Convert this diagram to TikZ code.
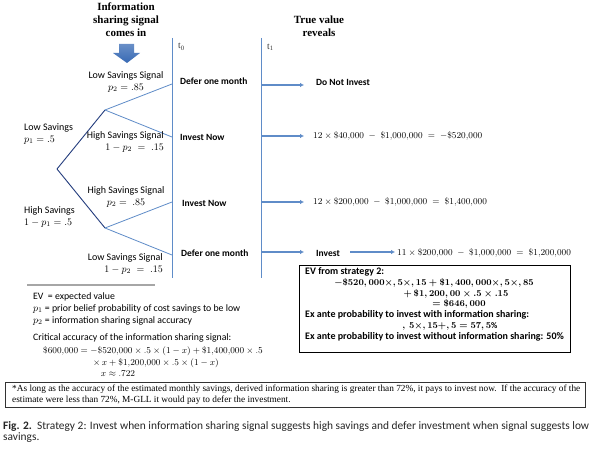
\documentclass[tikz,border=0pt]{standalone}
\usepackage{fontspec}
\setmainfont{Carlito}
\newfontfamily\serifface{Liberation Serif}
\usetikzlibrary{arrows.meta}

\definecolor{darkbranch}{RGB}{35,60,125}
\definecolor{lightbranch}{RGB}{95,140,200}
\definecolor{blockblue}{RGB}{55,105,180}

\tikzset{
  branch/.style={draw=darkbranch, line width=0.9pt},
  subbranch/.style={draw=lightbranch, line width=0.8pt},
  timeline/.style={draw=lightbranch, line width=0.9pt},
  flow/.style={draw=lightbranch, line width=1.4pt, -{Latex[length=4pt,width=4.5pt]}},
  lbl/.style={font=\fontsize{10}{12}\selectfont, inner sep=0pt},
  act/.style={font=\fontsize{9.5}{11}\selectfont\bfseries, anchor=west, inner sep=0pt},
  eqn/.style={font=\fontsize{9}{11}\selectfont, anchor=west, inner sep=0pt},
  stamp/.style={font=\serifface\fontsize{9.5}{10}\selectfont, text=black!80, anchor=west, inner sep=0pt},
  headline/.style={font=\serifface\bfseries\fontsize{11}{13}\selectfont, align=center, inner sep=0pt},
  evline/.style={font=\fontsize{10}{11}\selectfont\bfseries, inner sep=0pt},
  evmath/.style={font=\fontsize{8.6}{10}\selectfont\boldmath, inner sep=0pt},
  legend/.style={font=\fontsize{9.8}{12}\selectfont, anchor=west, inner sep=0pt},
  legmath/.style={font=\fontsize{8.6}{10}\selectfont, inner sep=0pt},
}

\begin{document}
\begin{tikzpicture}[x=1pt,y=-1pt]
  \useasboundingbox[fill=white] (0,0) rectangle (591,454);
  % headings
  \node[headline] (signal_head) at (126,20) {Information\\sharing signal\\comes in};
  \node[headline] (truth_head) at (319,26) {True value\\reveals};
  % signal comes in arrow
  \shade[top color=blockblue!75, bottom color=blockblue]
    (119,44) -- (134,44) -- (134,53) -- (140,53) -- (127,63) -- (113,53) -- (119,53) -- cycle;
  % time lines
  \coordinate (t0_top) at (172,38);
  \coordinate (t0_bot) at (172,278);
  \coordinate (t1_top) at (261,38);
  \coordinate (t1_bot) at (261,278);
  \draw[timeline] (t0_top) -- (t0_bot);
  \draw[timeline] (t1_top) -- (t1_bot);
  \node[stamp] (t0_label) at (178,47) {t\textsubscript{0}};
  \node[stamp] (t1_label) at (267,47) {t\textsubscript{1}};
  % tree
  \coordinate (root) at (57,169);
  \coordinate (up) at (105,110);
  \coordinate (down) at (105,228);
  \coordinate (end_1) at (172,84);
  \coordinate (end_2) at (172,137);
  \coordinate (end_3) at (172,202);
  \coordinate (end_4) at (172,255);
  \draw[branch] (root) -- (up);
  \draw[branch] (root) -- (down);
  \draw[subbranch] (up) -- (end_1);
  \draw[subbranch] (up) -- (end_2);
  \draw[subbranch] (down) -- (end_3);
  \draw[subbranch] (down) -- (end_4);
  % branch labels
  \node[lbl, anchor=west, align=left] (prior_low) at (24,134) {Low Savings\\$p_1 = .5$};
  \node[lbl, anchor=west, align=left] (prior_high) at (24,217) {High Savings\\$1 - p_1 = .5$};
  \node[lbl, align=center] (signal_low_up) at (126,82) {Low Savings Signal\\$p_2 = .85$};
  \node[lbl, anchor=east, align=right] (signal_high_up) at (164,142) {High Savings Signal\\$1 - p_2 \;=\; .15$};
  \node[lbl, align=center] (signal_high_down) at (126,197) {High Savings Signal\\$p_2 = \;.85$};
  \node[lbl, anchor=east, align=right] (signal_low_down) at (163,264) {Low Savings Signal\\$1 - p_2 \;=\; .15$};
  % actions at t0
  \node[act] (defer_up) at (180,81) {Defer one month};
  \node[act] (invest_up) at (180,137) {Invest Now};
  \node[act] (invest_down) at (182,203) {Invest Now};
  \node[act] (defer_down) at (181,253) {Defer one month};
  % outcomes at t1
  \node[act] (no_invest) at (316,82) {Do Not Invest};
  \node[eqn] (payoff_low) at (313,136) {$12 \times \$40{,}000 \;-\; \$1{,}000{,}000 \;=\; -\$520{,}000$};
  \node[eqn] (payoff_high) at (313,202) {$12 \times \$200{,}000 \;-\; \$1{,}000{,}000 \;=\; \$1{,}400{,}000$};
  \node[act] (invest_late) at (316,253) {Invest};
  \node[eqn] (payoff_late) at (397,253) {$11 \times \$200{,}000 \;-\; \$1{,}000{,}000 \;=\; \$1{,}200{,}000$};
  \coordinate (row_1) at (261,85);
  \coordinate (row_2) at (261,136);
  \coordinate (row_3) at (261,202);
  \coordinate (row_4) at (261,252);
  \draw[flow, shorten >=12pt] (row_1) -- (row_1 -| no_invest.west);
  \draw[flow, shorten >=9pt] (row_2) -- (row_2 -| payoff_low.west);
  \draw[flow, shorten >=9pt] (row_3) -- (row_3 -| payoff_high.west);
  \draw[flow, shorten >=12pt] (row_4) -- (row_4 -| invest_late.west);
  \draw[flow, shorten <=10pt, shorten >=2pt] (invest_late.east |- row_4) -- (payoff_late.west |- row_4);
  % expected value box
  \node[draw, line width=1pt, minimum width=271pt, minimum height=87pt, anchor=north west, inner sep=0pt] (ev_box) at (299,265) {};
  \node[evline, anchor=west] (ev_title) at (305,272) {EV from strategy 2:};
  \node[evmath] (ev_sum_1) at (434,283) {$-\$520,000 \times, 5 \times, 15 + \$1,400,000 \times, 5 \times, 85$};
  \node[evmath] (ev_sum_2) at (456,294) {$+\,\$1,200,00 \times.5 \times.15$};
  \node[evmath] (ev_sum_3) at (459,304) {$= \$646,000$};
  \node[evline, anchor=west] (ex_ante_with) at (305,315) {Ex ante probability to invest with information sharing:};
  \node[evmath] (ex_ante_calc) at (450,326) {$,\,5 \times, 15 +, 5 = 57,5\%$};
  \node[evline, anchor=west] (ex_ante_without) at (305,337) {Ex ante probability to invest without information sharing: 50\%};
  % legend
  \draw[gray!70, line width=2pt] (27,285) -- (155,285);
  \node[legend] (leg_ev) at (33,297) {EV\ \ = expected value};
  \node[legend] (leg_p1) at (33,309) {$p_1$ = prior belief probability of cost savings to be low};
  \node[legend] (leg_p2) at (33,321) {$p_2$ = information sharing signal accuracy};
  \node[legend] (leg_crit) at (33,338) {Critical accuracy of the information sharing signal:};
  \node[legmath, anchor=west] (crit_1) at (43,351) {$\$600{,}000 = -\$520{,}000 \times .5 \times (1 - x) + \$1{,}400{,}000 \times .5$};
  \node[legmath, anchor=west] (crit_2) at (93,363) {$\times\, x + \$1{,}200{,}000 \times .5 \times (1 - x)$};
  \node[legmath] (crit_3) at (118,374) {$x \approx .722$};
  % footnote
  \node[draw=black!80, line width=0.8pt, minimum width=580pt, minimum height=25pt, anchor=north west, inner sep=0pt] (note_box) at (5,382) {};
  \node[font=\serifface\fontsize{9.3}{11.3}\selectfont, anchor=north west, align=left, inner sep=0pt] (note_text) at (12,384.5)
    {*As long as the accuracy of the estimated monthly savings, derived information sharing is greater than 72\%, it pays to invest now.\ \ If the accuracy of the\\estimate were less than 72\%, M-GLL it would pay to defer the investment.};
  % caption
  \node[font=\fontsize{11.4}{11.5}\selectfont, anchor=north west, align=left, inner sep=0pt, text=black!85] (caption) at (3,421)
    {\textbf{Fig. 2.}\ \ Strategy 2: Invest when information sharing signal suggests high savings and defer investment when signal suggests low\\savings.};
\end{tikzpicture}
\end{document}
